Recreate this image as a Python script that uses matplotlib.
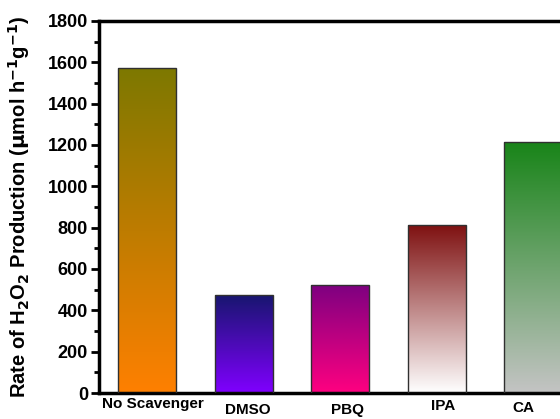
import matplotlib.pyplot as plt
import matplotlib.colors as mcolors
import numpy as np

plt.rcParams['font.family'] = ['Liberation Sans', 'DejaVu Sans']
plt.rcParams['font.weight'] = 'bold'
plt.rcParams['mathtext.default'] = 'bf'

# ---- data ----
scavengers = ['No Scavenger', 'DMSO', 'PBQ', 'IPA', 'CA']
rates = [1570, 475, 525, 815, 1215]
# gradient colours (top, bottom) per bar
top_colors = ['#7d7800', '#17166e', '#7d0080', '#7e1010', '#188418']
bottom_colors = ['#ff8000', '#8000ff', '#ff0080', '#ffffff', '#c4c4c4']

fig = plt.figure(figsize=(5.6, 4.19), dpi=100)
ax = fig.add_axes([0.177, 0.062, 0.861, 0.888])

x = np.arange(len(scavengers))
bars = ax.bar(x, rates, width=0.6, facecolor='none', edgecolor='#303030', lw=1.0, zorder=3)

# fill each bar with a vertical gradient
for b, c1, c2 in zip(bars, top_colors, bottom_colors):
    cmap = mcolors.LinearSegmentedColormap.from_list('g', [c2, c1])
    grad = np.linspace(0, 1, 256).reshape(-1, 1)
    x0, y0 = b.get_x(), b.get_y()
    w, h = b.get_width(), b.get_height()
    im = ax.imshow(grad, cmap=cmap, origin='lower', aspect='auto',
                   extent=[x0, x0 + w, y0, y0 + h], zorder=2)
    im.set_clip_path(b)

ax.set_xlim(-0.5, 4.5)
ax.set_ylim(0, 1800)
ax.set_yticks(np.arange(0, 1801, 200))
ax.set_yticks(np.arange(100, 1800, 200), minor=True)
ax.set_xticks([])

# category names, nudged a bit from the bar centres (pixel offsets)
label_shift = [(6, 4), (4, 10), (7, 10), (6, 6), (-10, 8)]
for i, (name, (dx, dy)) in enumerate(zip(scavengers, label_shift)):
    ax.annotate(name, xy=(x[i], 0), xycoords=('data', 'axes fraction'),
                xytext=(dx * 0.72, -dy * 0.72), textcoords='offset points',
                ha='center', va='top', fontsize=11, fontweight='bold',
                annotation_clip=False)

ax.tick_params(axis='y', which='major', direction='out', length=6, width=2, labelsize=13, pad=2)
ax.tick_params(axis='y', which='minor', direction='out', length=3.5, width=2)

for s in ax.spines.values():
    s.set_linewidth(2.5)

ax.set_ylabel(r'Rate of H$_2$O$_2$ Production ($\mu$mol h$^{-1}$g$^{-1}$)',
              fontsize=14.5, fontweight='bold')
ax.yaxis.set_label_coords(-0.14, 0.5)

fig.savefig('out.png', dpi=100)
